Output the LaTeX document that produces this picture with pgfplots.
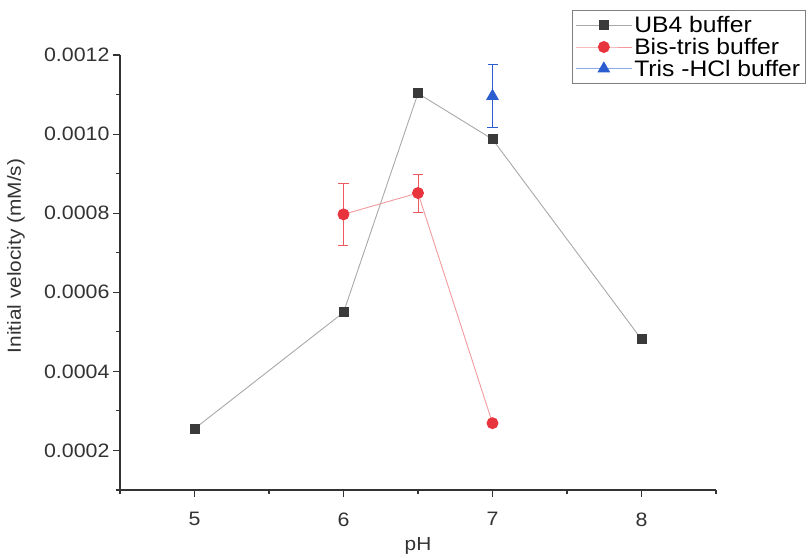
\documentclass[border=0pt]{standalone}
\usepackage{fontspec}
\setmainfont{Liberation Sans}[FakeStretch=1.1]
\usepackage{pgfplots}
\pgfplotsset{compat=1.18}
\usetikzlibrary{calc}
\definecolor{UBmark}{HTML}{3A3A3A}
\definecolor{UBline}{HTML}{A8A8A8}
\definecolor{BTmark}{HTML}{E8343C}
\definecolor{BTline}{HTML}{F29A9E}
\definecolor{BTerr}{HTML}{EE5A60}
\definecolor{THmark}{HTML}{2B5CD0}
\definecolor{THline}{HTML}{8FA8E6}
\definecolor{AxisGray}{HTML}{333333}

\begin{document}
\begin{tikzpicture}
\begin{axis}[
  name=ax,
  width=596bp, height=435bp, scale only axis,
  xmin=4.5, xmax=8.5,
  ymin=0.0001, ymax=0.0012,
  axis x line*=bottom,
  axis y line*=left,
  axis line style={AxisGray, line width=1.3pt},
  xtick={5,6,7,8},
  minor xtick={4.5,5.5,6.5,7.5,8.5},
  ytick={0.0002,0.0004,0.0006,0.0008,0.0010,0.0012},
  minor ytick={0.0001,0.0003,0.0005,0.0007,0.0009,0.0011},
  tick align=outside,
  major tick length=7bp,
  minor tick length=4bp,
  tick style={AxisGray, line width=1.1pt},
  scaled y ticks=false,
  yticklabel style={/pgf/number format/.cd, fixed, fixed zerofill, precision=4},
  xticklabel style={yshift=-12bp},
  /pgf/number format/assume math mode=true,
  ticklabel style={font=\fontsize{19.5}{19.5}\selectfont, text=AxisGray},
  xlabel={pH},
  ylabel={Initial velocity (mM/s)},
  label style={font=\fontsize{19}{19}\selectfont, text=AxisGray},
  xlabel style={at={(axis description cs:0.5,-0.128)}, anchor=center},
  ylabel style={at={(axis description cs:-0.1745,0.538)}, anchor=center},
  legend style={at={(axis description cs:0.7584,1.1034)}, anchor=north west,
    draw=gray, line width=0.8pt, font=\fontsize{22.5}{22.5}\selectfont,
    inner xsep=3bp, inner ysep=4bp, row sep=0bp, cells={anchor=west}},
  legend image code/.code={
    \draw[mark repeat=2,mark phase=2] plot coordinates {(0bp,0bp)(28bp,0bp)(56bp,0bp)};
  },
  clip=false,
]
% error bars first, in their own colour, so the marks sit on top
\addplot[forget plot, BTerr, line width=0.8pt, only marks, mark=none,
  error bars/.cd, y dir=both, y explicit, error mark=-,
  error mark options={rotate=90, mark size=5bp, BTerr, line width=0.8pt}]
  coordinates {(6,0.000797) +- (0,0.000078) (6.5,0.000851) +- (0,0.000048)};
\addplot[forget plot, THmark, line width=0.8pt, only marks, mark=none,
  error bars/.cd, y dir=both, y explicit, error mark=-,
  error mark options={rotate=90, mark size=5bp, THmark, line width=0.8pt}]
  coordinates {(7,0.001096) +- (0,0.00008)};
\addplot[UBline, line width=0.9pt, mark=square*, mark size=4.5bp,
  mark options={draw=UBmark, fill=UBmark, solid}]
  coordinates {(5,0.000255) (6,0.000549) (6.5,0.001103) (7,0.000987) (8,0.000481)};
\addplot[BTline, line width=0.9pt, mark=*, mark size=5.5bp,
  mark options={draw=BTmark, fill=BTmark, solid}]
  coordinates {(6,0.000797) (6.5,0.000851) (7,0.000269)};
\addplot[THline, line width=0.9pt, mark=triangle*, mark size=6.5bp,
  mark options={draw=THmark, fill=THmark, solid}]
  coordinates {(7,0.001096)};
\legend{UB4 buffer, Bis-tris buffer, Tris -HCl buffer}
\end{axis}
\pgfresetboundingbox
\path[use as bounding box] ($(ax.south west)+(-120bp,-68bp)$) rectangle ($(ax.south west)+(690bp,490bp)$);
\end{tikzpicture}
\end{document}
